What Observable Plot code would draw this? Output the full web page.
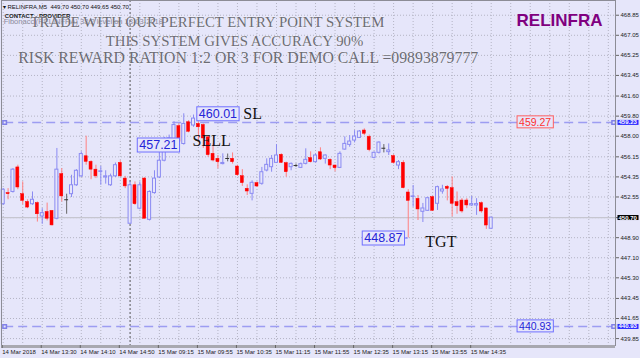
<!DOCTYPE html>
<html><head><meta charset="utf-8">
<script src="https://cdn.jsdelivr.net/npm/d3@7"></script>
<script src="https://cdn.jsdelivr.net/npm/@observablehq/plot@0.6"></script>
<style>
html,body{margin:0;padding:0;background:#E6E6FA;}
svg{display:block;}
</style></head><body>
<div id="chart"></div>
<script>
// ---- data (RELINFRA, M5) ----
const opens = [451.9,452.9,453.0,455.2,452.8,452.1,451.9,452.0,450.8,451.2,451.3,450.6,454.6,452.3,452.8,453.6,454.4,456.2,455.7,455.0,
454.8,454.3,453.6,454.4,455.6,454.2,450.15,453.6,451.5,454.2,450.5,452.9,454.3,455.8,457.0,457.5,458.9,457.3,459.25,458.96,
459.1,459.0,457.9,456.42,455.97,455.5,456.0,455.97,455.28,454.41,453.28,452.83,453.79,453.73,454.92,455.22,455.61,456.33,455.58,455.22,
455.37,455.16,455.52,456.03,455.67,456.56,455.97,455.88,455.37,455.16,456.8,457.22,457.61,457.85,458.51,457.94,456.06,456.51,456.92,456.57,
456.21,455.37,455.61,452.95,452.55,452.38,451.22,451.31,452.53,451.94,453.04,453.46,453.34,452.08,452.23,452.23,451.79,451.79,451.99,451.52,449.70];
const highs = [453.3,453.3,455.1,455.4,453.9,452.3,453.0,452.1,451.5,452.0,451.3,456.9,455.1,452.8,454.5,455.0,456.6,458.0,455.8,455.4,
455.3,454.9,454.6,455.6,455.8,454.4,453.9,453.9,453.9,454.3,453.1,454.9,456.6,457.9,458.1,459.3,459.1,460.01,459.4,459.9,
459.3,459.1,458.0,457.3,456.27,456.42,456.4,456.5,455.4,455.0,453.64,454.0,453.9,455.2,455.97,456.27,457.25,456.42,455.67,455.6,
455.5,455.6,456.87,456.6,456.4,456.96,456.33,455.97,455.4,456.6,457.94,458.06,458.5,458.51,458.66,458.1,456.6,457.5,457.25,457.31,
456.33,455.82,455.8,453.2,453.58,452.68,451.97,452.53,452.6,453.52,453.6,453.58,454.35,453.0,452.4,452.4,452.6,452.4,452.1,451.55,450.70];
const lows = [451.8,452.3,452.9,453.2,451.85,451.5,451.8,450.3,450.1,450.4,449.95,450.5,452.1,451.0,452.5,453.5,454.3,455.4,454.1,454.2,
453.6,453.7,453.5,454.3,454.3,453.3,450.1,451.8,451.4,450.6,450.4,452.8,454.2,455.7,456.9,457.4,457.4,457.2,458.3,458.8,
457.5,456.9,456.1,455.7,455.07,455.43,455.7,455.5,454.4,453.5,452.68,452.2,453.4,453.6,454.8,454.77,455.55,455.55,454.32,454.9,
455.2,455.1,455.43,455.6,455.6,455.82,455.5,455.0,454.8,455.1,456.75,457.01,457.4,457.8,458.06,456.6,455.97,456.4,456.5,456.27,
455.5,455.0,453.28,448.87,451.63,450.44,450.26,451.25,451.25,451.34,452.8,452.2,450.77,451.0,451.1,451.5,451.7,450.9,451.1,449.64,449.65];
const closes = [453.2,452.8,455.0,453.4,452.2,451.6,452.3,451.0,451.1,450.6,450.0,455.0,452.6,452.3,453.6,454.9,456.4,455.7,455.0,454.4,
454.85,454.4,454.4,455.4,454.4,453.5,453.6,451.9,453.6,450.6,453.0,454.2,455.8,457.0,457.8,459.0,457.5,459.1,458.4,459.58,
458.8,457.8,456.3,455.82,455.67,455.6,456.0,455.67,454.5,453.79,453.04,453.82,453.49,454.77,455.43,455.97,456.27,455.61,454.77,455.52,
455.37,455.49,455.88,455.67,456.27,455.91,456.27,455.37,455.13,456.42,457.31,457.52,457.97,458.42,458.22,456.75,456.51,457.43,456.92,456.72,
455.61,455.67,453.34,452.2,452.6,451.43,451.52,452.44,451.31,453.43,453.22,453.28,451.94,451.72,451.25,451.79,451.91,451.91,451.25,449.99,450.70];

const timeLabels = ["14 Mar 2018","14 Mar 13:30","14 Mar 14:10","14 Mar 14:50","15 Mar 09:15","15 Mar 09:55","15 Mar 10:35",
  "15 Mar 11:15","15 Mar 11:55","15 Mar 12:35","15 Mar 13:15","15 Mar 13:55","15 Mar 14:35"];
const barsPerLabel = 8;
const priceTicks = [468.85,467.05,465.25,463.45,461.60,459.80,458.00,456.15,454.35,452.55,450.70,448.90,447.10,445.30,443.45,441.65,439.85];

const lastPrice = 450.70;
const markerBar = 26;               // vertical line (14 Mar 15:00)
const levelPrices = [459.23, 440.93];
const levelStartBar = 0.3, levelEndBar = 125.1;

const titleLines = ["TRADE WITH OUR PERFECT ENTRY POINT SYSTEM", "THIS SYSTEM GIVES ACCURACY 90%",
  "RISK REWARD RATION 1:2 OR 3 FOR DEMO CALL =09893879777"];
const titleBars = [5.6, 21.0, 3.1];
const titlePrices = [468.2, 466.5, 465.05];

const priceTags = ["460.01", "457.21", "448.87"];
const priceTagBars = [44.0, 31.8, 77.9];
const priceTagPrices = [460.01, 457.21, 448.87];
const signalWords = ["SL", "SELL", "TGT"];
const signalBars = [49.2, 38.8, 86.5];
const signalPrices = [460.0, 457.57, 448.51];
const lineLabels = ["459.27", "440.93"];
const lineLabelBar = 109.0;

// ---- derived ----
const candles = opens.map((o, i) => ({i, o, h: highs[i], l: lows[i], c: closes[i]}));
const bulls = candles.filter(d => d.c > d.o);
const bears = candles.filter(d => d.c < d.o);
const dojis = candles.filter(d => d.c === d.o);
const levels = levelPrices.map(p => ({p, i1: levelStartBar, i2: levelEndBar}));
const levelEnds = levels.flatMap(d => [{i: d.i1, p: d.p}, {i: d.i2, p: d.p}]);
const titles = titleLines.map((t, k) => ({t, i: titleBars[k], p: titlePrices[k], k}));
const tags = priceTags.map((t, k) => ({t, i: priceTagBars[k], p: priceTagPrices[k]}));
const words = signalWords.map((t, k) => ({t, i: signalBars[k], p: signalPrices[k]}));
const lineTags = lineLabels.map((t, k) => ({t, i: lineLabelBar, p: levelPrices[k], k}));
const axisTags = [{p: levelPrices[0], t: levelPrices[0].toFixed(2), bg: "blue"},
                  {p: lastPrice, t: lastPrice.toFixed(2), bg: "black"},
                  {p: levelPrices[1], t: levelPrices[1].toFixed(2), bg: "blue"}];

const BG = "#E6E6FA";
const BULL = "#8a8af2";
const BEAR = "#ff0000";
const BEARWICK = "#ff8080";
const GRID = "#b4b4c4";
const SERIF = "Liberation Serif, Times New Roman, serif";
const hw = 0.31;
const yDomain = [439.23, 470.17];
const xDomain = [-0.35, 125.47];
const gridBars = d3.range(0, 126, 4);

const svg = Plot.plot({
  width: 640, height: 358,
  marginLeft: 1, marginRight: 25, marginTop: 0, marginBottom: 13,
  style: {background: BG, fontFamily: "Liberation Sans, Arial, sans-serif", overflow: "visible"},
  x: {domain: xDomain, axis: null},
  y: {domain: yDomain, axis: null},
  marks: [
    Plot.gridY(priceTicks, {stroke: GRID, strokeOpacity: 1, strokeDasharray: "1,2"}),
    Plot.gridX(gridBars, {stroke: GRID, strokeOpacity: 1, strokeDasharray: "1,2"}),
    Plot.ruleY([lastPrice], {stroke: "#c6c6d0", strokeWidth: 1.2}),
    Plot.ruleX([markerBar], {stroke: "#555", strokeDasharray: "2,2"}),
    Plot.ruleY(levels, {y: "p", x1: "i1", x2: "i2", stroke: "#9d9df2", strokeWidth: 1.5, strokeDasharray: "9,5"}),
    Plot.dot(levelEnds, {x: "i", y: "p", symbol: "square", r: 2, stroke: "#8080e8", fill: BG}),
    // wicks
    Plot.ruleX(bulls, {x: "i", y1: "l", y2: "h", stroke: BULL}),
    Plot.ruleX(bears, {x: "i", y1: "l", y2: "h", stroke: BEARWICK}),
    Plot.ruleX(dojis, {x: "i", y1: "l", y2: "h", stroke: "#666"}),
    // bodies
    Plot.rect(bulls, {x1: d => d.i - hw, x2: d => d.i + hw, y1: "o", y2: "c", fill: BG, stroke: BULL}),
    Plot.rect(bears, {x1: d => d.i - hw, x2: d => d.i + hw, y1: "o", y2: "c", fill: BEAR, stroke: BEAR, strokeWidth: 0.5}),
    Plot.ruleY(dojis, {y: "c", x1: d => d.i - 0.4, x2: d => d.i + 0.4, stroke: "#333"}),
    // target connector
    Plot.ruleY([tags[2]], {y: "p", x1: d => d.i + 4, x2: 83, stroke: "#6f6fff"}),
    // frame
    Plot.frame({stroke: "#8c8c96"}),
    Plot.ruleY([yDomain[0]], {stroke: "#a8a8b0", strokeWidth: 3, dy: 1}),
    // axes
    Plot.axisX({ticks: d3.range(0, timeLabels.length * barsPerLabel, barsPerLabel), tickFormat: i => timeLabels[i / barsPerLabel],
      textAnchor: "start", tickSize: 3, tickPadding: 1, fontSize: 6, anchor: "bottom", stroke: "#666", fill: "#222", dx: -1}),
    Plot.axisY({ticks: priceTicks, tickFormat: d => d === lastPrice ? "" : d.toFixed(2), anchor: "right", tickSize: 3, tickPadding: 2, fontSize: 6, stroke: "#666", fill: "#222"}),
    // header texts
    Plot.text(["▾ RELINFRA,M5  449.70 450.70 449.65 450.70"], {x: -0.1, y: 469.55, textAnchor: "start", fontSize: 6, fill: "#111"}),
    Plot.text(["CONTACT - PROVIDER"], {x: 0.3, y: 468.78, textAnchor: "start", fontSize: 6, fontWeight: "bold", fill: "#222"}),
    Plot.text(["Fibonacci(RELINFRA) 38.2 level on 18-03-2018"], {x: 0.1, y: 468.25, textAnchor: "start", fontSize: 7.5, fill: "#8a8a9a"}),
    Plot.text(titles.filter(d => d.k < 2), {x: "i", y: "p", text: "t", textAnchor: "start", fontSize: 14.8, fontFamily: SERIF,
      fill: "#6c6c74", stroke: "#ffffff", strokeWidth: 0.3}),
    Plot.text(titles.filter(d => d.k === 2), {x: "i", y: "p", text: "t", textAnchor: "start", fontSize: 15.8, fontFamily: SERIF,
      fill: "#6c6c74", stroke: "#ffffff", strokeWidth: 0.3}),
    Plot.text(["RELINFRA"], {x: 114.0, y: 468.38, fontSize: 17, fontWeight: "bold", fill: "#800080"}),
    // boxed price tags
    Plot.text(tags, {x: "i", y: "p", text: "t", fontSize: 12.5, fill: "#2424d8", ariaDescription: "tagbox"}),
    Plot.text(words, {x: "i", y: "p", text: "t", textAnchor: "start", fontSize: 16, fontFamily: SERIF, fill: "#111"}),
    Plot.text(lineTags.filter(d => d.k === 0), {x: "i", y: "p", text: "t", fontSize: 10.5, fill: "#ff3030", ariaDescription: "redbox"}),
    Plot.text(lineTags.filter(d => d.k === 1), {x: "i", y: "p", text: "t", fontSize: 10.5, fill: "#2424d8", ariaDescription: "tagbox"}),
    Plot.text(axisTags.filter(d => d.bg === "blue"), {y: "p", text: "t", frameAnchor: "right", dx: 3, textAnchor: "start", fontSize: 6, fill: "white", fontWeight: "bold", ariaDescription: "bluefill"}),
    Plot.text(axisTags.filter(d => d.bg === "black"), {y: "p", text: "t", frameAnchor: "right", dx: 3, textAnchor: "start", fontSize: 6, fill: "white", fontWeight: "bold", ariaDescription: "blackfill"})
  ]
});

document.getElementById("chart").append(svg);

const boxStyles = {
  tagbox: {fill: BG, stroke: "#6f6fff", px: 2, py: 0},
  redbox: {fill: BG, stroke: "#ff6060", px: 2, py: 0},
  bluefill: {fill: "#2a2aff", stroke: "none", px: 1, py: -0.5},
  blackfill: {fill: "#000", stroke: "none", px: 1, py: -0.5}
};
for (const [desc, st] of Object.entries(boxStyles)) {
  svg.querySelectorAll(`g[aria-description="${desc}"] text`).forEach(t => {
    const b = t.getBBox();
    const r = document.createElementNS("http://www.w3.org/2000/svg", "rect");
    r.setAttribute("x", b.x - st.px);
    r.setAttribute("y", b.y - st.py);
    r.setAttribute("width", b.width + 2 * st.px);
    r.setAttribute("height", b.height + 2 * st.py);
    r.setAttribute("fill", st.fill);
    r.setAttribute("stroke", st.stroke);
    const tr = t.getAttribute("transform");
    if (tr) r.setAttribute("transform", tr);
    t.parentNode.insertBefore(r, t);
  });
}
</script>
</body></html>
